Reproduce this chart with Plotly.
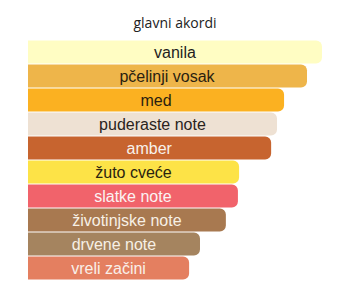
import plotly.graph_objects as go

title_text = "glavni akordi"
accords = ["vanila", "pčelinji vosak", "med", "puderaste note", "amber",
           "žuto cveće", "slatke note", "životinjske note", "drvene note", "vreli začini"]
strengths = [100, 94.9, 87.1, 84.7, 82.7, 71.8, 71.4, 67.3, 58.5, 54.8]
bar_colors = ["#FFFDC3", "#EEB54A", "#FBB121", "#EEE1D3", "#C7642F",
              "#FDE347", "#F1636B", "#A87950", "#A5845F", "#E47F60"]
text_colors = ["#1e1e1e", "#2a1e10", "#2a1e10", "#2a2420", "#f7f2ec",
               "#2a2410", "#fbf3f3", "#f7f0e6", "#f7f0e6", "#f9efe9"]

fig = go.Figure(go.Bar(
    x=strengths,
    y=accords,
    orientation="h",
    marker=dict(color=bar_colors, line=dict(width=0), cornerradius=6),
    text=accords,
    textposition="inside",
    insidetextanchor="middle",
    textangle=0,
    textfont=dict(family="Liberation Sans, Arial, sans-serif", size=16, color=text_colors),
    hoverinfo="skip",
))

fig.update_layout(
    width=349, height=292,
    margin=dict(l=28, r=27, t=40, b=12),
    paper_bgcolor="white", plot_bgcolor="white",
    bargap=0.04,
    showlegend=False,
    title=dict(text=title_text, x=0.5, xanchor="center", xref="paper",
               y=1 - 23 / 292, yref="container", yanchor="middle",
               font=dict(family="Open Sans, sans-serif", size=14, color="#222222")),
    xaxis=dict(range=[0, 100], visible=False, fixedrange=True),
    yaxis=dict(autorange="reversed", visible=False, fixedrange=True),
    uniformtext=dict(mode=False),
)

fig.write_html("out.html", config={"displayModeBar": False})
